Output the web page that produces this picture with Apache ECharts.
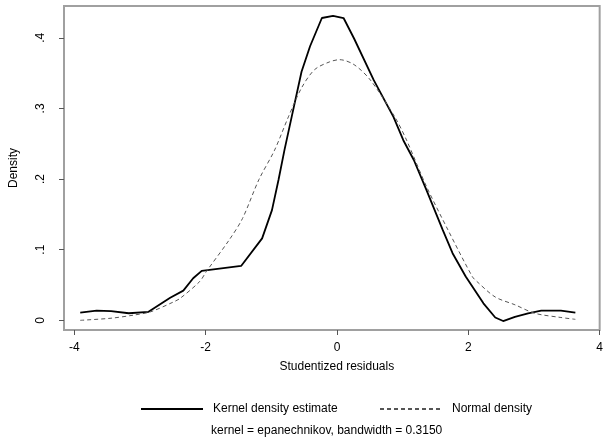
<!DOCTYPE html>
<html>
<head>
<meta charset="utf-8">
<script src="https://cdn.jsdelivr.net/npm/echarts@6/dist/echarts.min.js"></script>
<style>
  html, body { margin: 0; padding: 0; background: #fff; }
  #chart { width: 606px; height: 443px; }
</style>
</head>
<body>
<div id="chart"></div>
<script>
// kernel density estimate
const kdeX = [-3.91, -3.66, -3.44, -3.17, -2.87, -2.54, -2.34, -2.19, -2.06, -1.46, -1.14, -0.99, -0.89, -0.80,
  -0.69, -0.54, -0.41, -0.23, -0.06, 0.10, 0.26, 0.56, 0.86, 1.01, 1.17, 1.36, 1.61, 1.76, 1.96,
  2.23, 2.41, 2.53, 2.71, 2.91, 3.11, 3.41, 3.63];
const kdeY = [0.011, 0.0136, 0.013, 0.010, 0.012, 0.032, 0.042, 0.0595, 0.070, 0.077, 0.116, 0.156, 0.199, 0.241,
  0.288, 0.352, 0.388, 0.428, 0.431, 0.428, 0.399, 0.340, 0.288, 0.255, 0.227, 0.185, 0.128, 0.095, 0.062,
  0.024, 0.004, -0.001, 0.005, 0.010, 0.0136, 0.0136, 0.011];

// normal density
const normX = [-3.91, -3.44, -3.09, -2.84, -2.49, -2.39, -2.09, -1.99, -1.64, -1.44, -1.19, -0.95, -0.74, -0.54,
  -0.34, -0.11, 0.04, 0.26, 0.51, 0.88, 1.06, 1.36, 1.69, 2.06, 2.13, 2.41, 2.71, 3.01, 3.41, 3.63];
const normY = [0.0, 0.003, 0.0075, 0.012, 0.026, 0.031, 0.055, 0.069, 0.114, 0.144, 0.199, 0.241, 0.288, 0.329,
  0.355, 0.366, 0.369, 0.362, 0.340, 0.288, 0.255, 0.19, 0.128, 0.062, 0.055, 0.033, 0.022, 0.010, 0.004, 0.0014];

const xTicks = [-4, -2, 0, 2, 4];
const yTicks = [0, 0.1, 0.2, 0.3, 0.4];

const chart = echarts.init(document.getElementById('chart'));
const font = 'Liberation Sans, Arial, sans-serif';

const legendBase = {
  top: 398, itemWidth: 62, itemHeight: 10,
  itemStyle: { opacity: 0 },
  textStyle: { fontSize: 12, color: '#000', padding: [0, 0, 0, 5] }
};

chart.setOption({
  animation: false,
  textStyle: { fontFamily: font },
  grid: { left: 62, right: 0, top: 6, bottom: 113, show: true, borderColor: '#a0a0a0', borderWidth: 2 },
  title: {
    text: 'kernel = epanechnikov, bandwidth = 0.3150',
    left: 206, top: 420,
    textStyle: { fontSize: 12, fontWeight: 'normal', color: '#000', fontFamily: font }
  },
  legend: [
    Object.assign({ data: ['Kernel density estimate'], left: 135 }, legendBase),
    Object.assign({ data: ['Normal density'], left: 374 }, legendBase)
  ],
  xAxis: {
    type: 'value', min: -4.157, max: 4.0,
    name: 'Studentized residuals', nameLocation: 'middle', nameGap: 31,
    nameTextStyle: { fontSize: 12, color: '#000', padding: [0, 0, 0, 10] },
    axisLine: { show: false, onZero: false },
    splitLine: { show: false },
    axisTick: { customValues: xTicks, length: 5, lineStyle: { color: '#555' } },
    axisLabel: { customValues: xTicks, margin: 12, fontSize: 12, color: '#000', formatter: v => String(v) }
  },
  yAxis: {
    type: 'value', min: -0.0137, max: 0.445,
    name: 'Density', nameLocation: 'middle', nameGap: 44, nameRotate: 90,
    nameTextStyle: { fontSize: 12, color: '#000' },
    axisLine: { show: false, onZero: false },
    splitLine: { show: false },
    axisTick: { customValues: yTicks, length: 5, lineStyle: { color: '#555' } },
    axisLabel: {
      customValues: yTicks, rotate: 90, margin: 17, fontSize: 12, color: '#000',
      formatter: v => v === 0 ? '0' : String(+v.toFixed(1)).replace('0.', '.')
    }
  },
  series: [
    {
      name: 'Kernel density estimate', type: 'line', symbol: 'none',
      data: kdeX.map((x, i) => [x, kdeY[i]]),
      lineStyle: { color: '#000', width: 1.8 },
      itemStyle: { color: '#000' }
    },
    {
      name: 'Normal density', type: 'line', symbol: 'none', smooth: 0.3,
      data: normX.map((x, i) => [x, normY[i]]),
      lineStyle: { color: '#555', width: 1, type: [4, 3] },
      itemStyle: { color: '#555' }
    }
  ]
});
</script>
</body>
</html>
